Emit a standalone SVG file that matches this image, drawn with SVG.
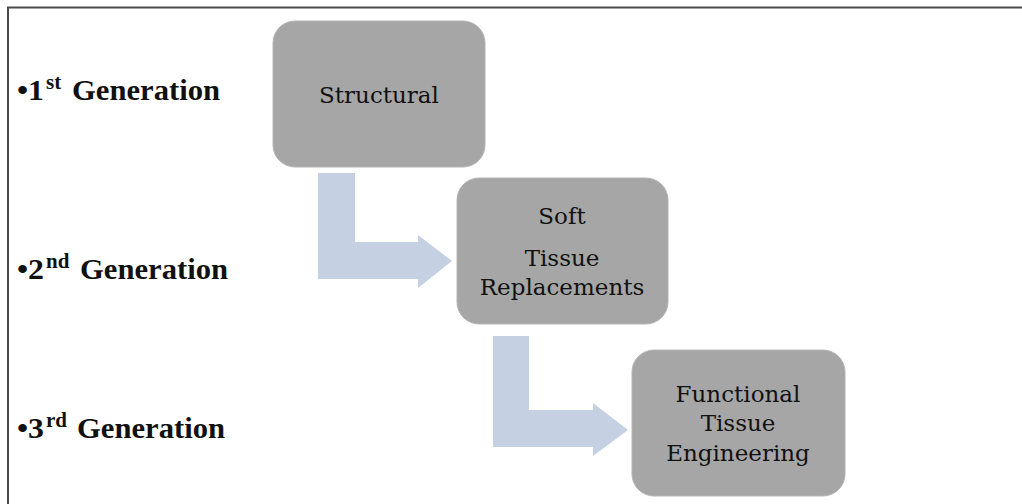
<svg xmlns="http://www.w3.org/2000/svg" width="1022" height="504" viewBox="0 0 1022 504">
<style>
.box{fill:#a6a6a6;stroke:#b4b4b4;stroke-width:1}
.arrow{fill:#c5d0e3}
.bt{font-family:"DejaVu Serif","Liberation Serif",serif;font-size:23px;fill:#111;text-anchor:middle}
.lbl{font-family:"Liberation Serif","DejaVu Serif",serif;font-weight:bold;font-size:30px;fill:#111}
.sup{font-family:"Liberation Serif","DejaVu Serif",serif;font-weight:bold;font-size:21px;fill:#111}
</style>
<rect x="0" y="0" width="1022" height="504" fill="#ffffff"/>
<g id="frame">
<line x1="7" y1="7.5" x2="1022" y2="7.5" stroke="#4a4a4a" stroke-width="2"/>
<line x1="8" y1="7" x2="8" y2="504" stroke="#4a4a4a" stroke-width="2"/>
</g>
<g id="connectors">
<path class="arrow" d="M318,173 H355 V242 H418 V235 L452,261 L418,288 V279 H318 Z"/>
<path class="arrow" d="M493,336 H529 V410 H593 V403 L628,430 L593,456 V447 H493 Z"/>
</g>
<g id="label-gen1">
<text class="lbl" x="17" y="100" textLength="27" lengthAdjust="spacingAndGlyphs">•1</text>
<text class="sup" x="46" y="89">st</text>
<text class="lbl" x="72" y="100" textLength="148" lengthAdjust="spacingAndGlyphs">Generation</text>
</g>
<g id="label-gen2">
<text class="lbl" x="17" y="279" textLength="27" lengthAdjust="spacingAndGlyphs">•2</text>
<text class="sup" x="46" y="268">nd</text>
<text class="lbl" x="80" y="279" textLength="148" lengthAdjust="spacingAndGlyphs">Generation</text>
</g>
<g id="label-gen3">
<text class="lbl" x="17" y="438" textLength="27" lengthAdjust="spacingAndGlyphs">•3</text>
<text class="sup" x="46" y="427">rd</text>
<text class="lbl" x="77" y="438" textLength="148" lengthAdjust="spacingAndGlyphs">Generation</text>
</g>
<g id="node-structural">
<rect class="box" x="273" y="21" width="212" height="146" rx="22"/>
<text class="bt" x="379" y="103">Structural</text>
</g>
<g id="node-soft">
<rect class="box" x="457" y="178" width="211" height="146" rx="22"/>
<text class="bt" x="562" y="224">Soft</text>
<text class="bt" x="562" y="266">Tissue</text>
<text class="bt" x="562" y="295">Replacements</text>
</g>
<g id="node-functional">
<rect class="box" x="632" y="350" width="213" height="146" rx="22"/>
<text class="bt" x="738" y="402">Functional</text>
<text class="bt" x="738" y="431">Tissue</text>
<text class="bt" x="738" y="461">Engineering</text>
</g>
</svg>
